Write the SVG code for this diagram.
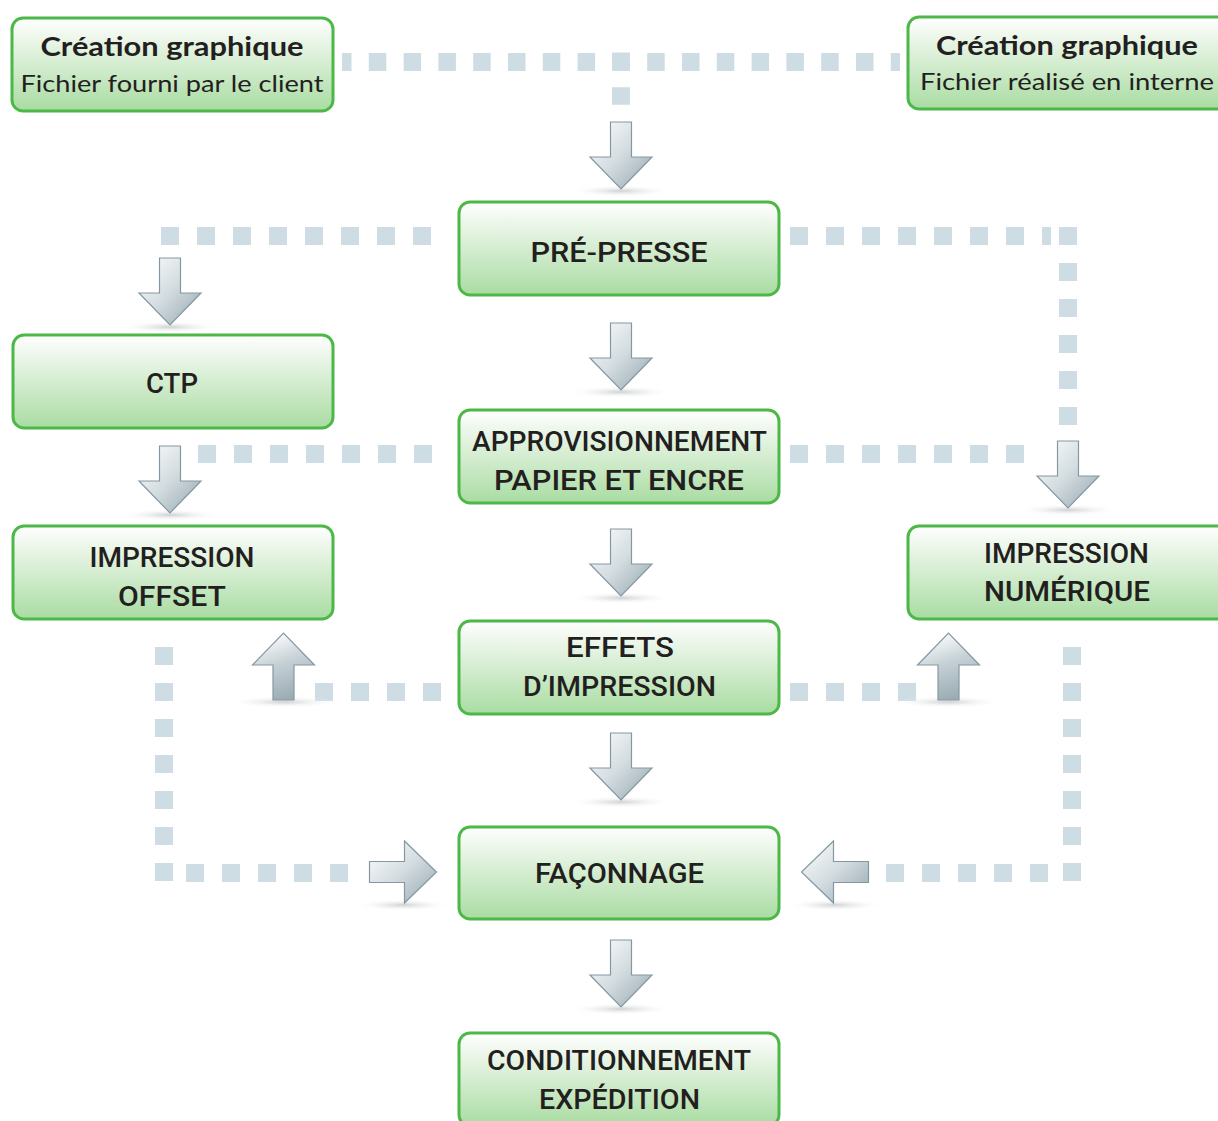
<svg xmlns="http://www.w3.org/2000/svg" xmlns:xlink="http://www.w3.org/1999/xlink" width="1218" height="1121" viewBox="0 0 1218 1121">
<style>
.box{fill:url(#boxg);stroke:#4cb848;stroke-width:3}
.lbl{font-family:Roboto,"Liberation Sans",sans-serif;font-weight:500;font-size:28px;fill:#231f20;text-anchor:middle}
.t1{font-family:Lato,"Liberation Sans",sans-serif;font-weight:700;font-size:26px;fill:#231f20;text-anchor:middle}
.t2{font-family:Lato,"Liberation Sans",sans-serif;font-weight:400;font-size:24px;fill:#231f20;text-anchor:middle}
.dot{fill:none;stroke:#cddde3;stroke-width:18;stroke-dasharray:18 18}
.arr{stroke:#8598a2;stroke-width:1.2;stroke-linejoin:miter}
</style>
<defs>
<linearGradient id="boxg" x1="0" y1="0" x2="0" y2="1">
<stop offset="0" stop-color="#ffffff"/>
<stop offset="0.2" stop-color="#eef7ec"/>
<stop offset="1" stop-color="#a9dca2"/>
</linearGradient>
<linearGradient id="gd" x1="0" y1="0" x2="1" y2="1">
<stop offset="0" stop-color="#ffffff"/>
<stop offset="0.5" stop-color="#d3dce0"/>
<stop offset="1" stop-color="#93a6af"/>
</linearGradient>
<linearGradient id="gu" x1="0.3" y1="0" x2="0.6" y2="1">
<stop offset="0" stop-color="#ffffff"/>
<stop offset="0.45" stop-color="#c6d1d6"/>
<stop offset="1" stop-color="#98aab2"/>
</linearGradient>
<radialGradient id="sh" cx="0.5" cy="0.5" r="0.5">
<stop offset="0" stop-color="#b9bcbe" stop-opacity="0.7"/>
<stop offset="1" stop-color="#ffffff" stop-opacity="0"/>
</radialGradient>
<path id="aDown" class="arr" fill="url(#gd)" d="M-10.5,0 H10.5 V35 H31 L0,67 L-31,35 H-10.5 Z"/>
<path id="aUp" class="arr" fill="url(#gu)" d="M-10.5,0 H10.5 V-35 H31 L0,-67 L-31,-35 H-10.5 Z"/>
<path id="aRight" class="arr" fill="url(#gd)" d="M0,-10.5 V10.5 H35 V31 L67,0 L35,-31 V-10.5 Z"/>
<path id="aLeft" class="arr" fill="url(#gd)" d="M0,-10.5 V10.5 H-35 V31 L-67,0 L-35,-31 V-10.5 Z"/>
</defs>
<rect width="1218" height="1121" fill="#ffffff"/>

<g id="connectors">
<path class="dot" d="M342,62 H900" style="stroke-dasharray:17.5 17.3;stroke-dashoffset:8"/>
<path class="dot" d="M621,52.5 V105" style="stroke-dasharray:17.5 17.3"/>
<path class="dot" d="M161,236 H432"/>
<path class="dot" d="M790,236 H1051"/>
<path class="dot" d="M1068,227 V425"/>
<path class="dot" d="M198,454 H433"/>
<path class="dot" d="M790,454 H1024"/>
<path class="dot" d="M315,692 H441"/>
<path class="dot" d="M790,692 H916"/>
<path class="dot" d="M164,647 V881"/>
<path class="dot" d="M186,873 H348"/>
<path class="dot" d="M1072,647 V881"/>
<path class="dot" d="M886,873 H1049"/>

<g id="shadows">
<ellipse cx="621" cy="191" rx="52" ry="6" fill="url(#sh)"/>
<ellipse cx="621" cy="392" rx="52" ry="6" fill="url(#sh)"/>
<ellipse cx="621" cy="598" rx="52" ry="6" fill="url(#sh)"/>
<ellipse cx="621" cy="802" rx="52" ry="6" fill="url(#sh)"/>
<ellipse cx="621" cy="1009" rx="52" ry="6" fill="url(#sh)"/>
<ellipse cx="170" cy="327" rx="52" ry="6" fill="url(#sh)"/>
<ellipse cx="170" cy="515" rx="52" ry="6" fill="url(#sh)"/>
<ellipse cx="1068" cy="510" rx="52" ry="6" fill="url(#sh)"/>
<ellipse cx="284" cy="702" rx="56" ry="6" fill="url(#sh)"/>
<ellipse cx="948" cy="702" rx="56" ry="6" fill="url(#sh)"/>
<ellipse cx="403" cy="905" rx="48" ry="6" fill="url(#sh)"/>
<ellipse cx="835" cy="905" rx="48" ry="6" fill="url(#sh)"/>
</g>

<use xlink:href="#aDown" href="#aDown" x="621" y="122"/>
<use xlink:href="#aDown" href="#aDown" x="621" y="323"/>
<use xlink:href="#aDown" href="#aDown" x="621" y="529"/>
<use xlink:href="#aDown" href="#aDown" x="621" y="733"/>
<use xlink:href="#aDown" href="#aDown" x="621" y="940"/>
<use xlink:href="#aDown" href="#aDown" x="170" y="258"/>
<use xlink:href="#aDown" href="#aDown" x="170" y="446"/>
<use xlink:href="#aDown" href="#aDown" x="1068" y="441"/>
<use xlink:href="#aUp" href="#aUp" x="283.5" y="700"/>
<use xlink:href="#aUp" href="#aUp" x="948.5" y="700"/>
<use xlink:href="#aRight" href="#aRight" x="369.5" y="872"/>
<use xlink:href="#aLeft" href="#aLeft" x="868.5" y="872"/>
</g>

<g id="node-creation-client">
<rect class="box" x="12" y="18" width="321" height="93" rx="11"/>
<text class="t1" x="172" y="56" textLength="263" lengthAdjust="spacingAndGlyphs">Création graphique</text>
<text class="t2" x="172" y="92" textLength="303" lengthAdjust="spacingAndGlyphs">Fichier fourni par le client</text>
</g>
<g id="node-creation-interne">
<rect class="box" x="908" y="17" width="321" height="92" rx="11"/>
<text class="t1" x="1067" y="55" textLength="262" lengthAdjust="spacingAndGlyphs">Création graphique</text>
<text class="t2" x="1067" y="90" textLength="294" lengthAdjust="spacingAndGlyphs">Fichier réalisé en interne</text>
</g>
<g id="node-prepresse">
<rect class="box" x="459" y="202" width="320" height="93" rx="11"/>
<text class="lbl" x="619" y="262" textLength="177" lengthAdjust="spacingAndGlyphs">PRÉ-PRESSE</text>
</g>
<g id="node-ctp">
<rect class="box" x="13" y="335" width="320" height="93" rx="11"/>
<text class="lbl" x="172" y="393" textLength="52" lengthAdjust="spacingAndGlyphs">CTP</text>
</g>
<g id="node-approvisionnement">
<rect class="box" x="459" y="410" width="320" height="93" rx="11"/>
<text class="lbl" x="619.5" y="451" textLength="295" lengthAdjust="spacingAndGlyphs">APPROVISIONNEMENT</text>
<text class="lbl" x="619" y="490" textLength="250" lengthAdjust="spacingAndGlyphs">PAPIER ET ENCRE</text>
</g>
<g id="node-offset">
<rect class="box" x="13" y="526" width="320" height="93" rx="11"/>
<text class="lbl" x="172" y="567" textLength="165" lengthAdjust="spacingAndGlyphs">IMPRESSION</text>
<text class="lbl" x="172" y="606" textLength="108" lengthAdjust="spacingAndGlyphs">OFFSET</text>
</g>
<g id="node-numerique">
<rect class="box" x="908" y="526" width="321" height="93" rx="11"/>
<text class="lbl" x="1066.5" y="563" textLength="165" lengthAdjust="spacingAndGlyphs">IMPRESSION</text>
<text class="lbl" x="1067" y="601" textLength="166" lengthAdjust="spacingAndGlyphs">NUMÉRIQUE</text>
</g>
<g id="node-effets">
<rect class="box" x="459" y="621" width="320" height="93" rx="11"/>
<text class="lbl" x="620" y="657" textLength="108" lengthAdjust="spacingAndGlyphs">EFFETS</text>
<text class="lbl" x="619.5" y="696" textLength="193" lengthAdjust="spacingAndGlyphs">D’IMPRESSION</text>
</g>
<g id="node-faconnage">
<rect class="box" x="459" y="827" width="320" height="92" rx="11"/>
<text class="lbl" x="619.5" y="883" textLength="169" lengthAdjust="spacingAndGlyphs">FAÇONNAGE</text>
</g>
<g id="node-conditionnement">
<rect class="box" x="459" y="1033" width="320" height="93" rx="11"/>
<text class="lbl" x="619" y="1070" textLength="264" lengthAdjust="spacingAndGlyphs">CONDITIONNEMENT</text>
<text class="lbl" x="619.5" y="1109" textLength="161" lengthAdjust="spacingAndGlyphs">EXPÉDITION</text>
</g>
</svg>
